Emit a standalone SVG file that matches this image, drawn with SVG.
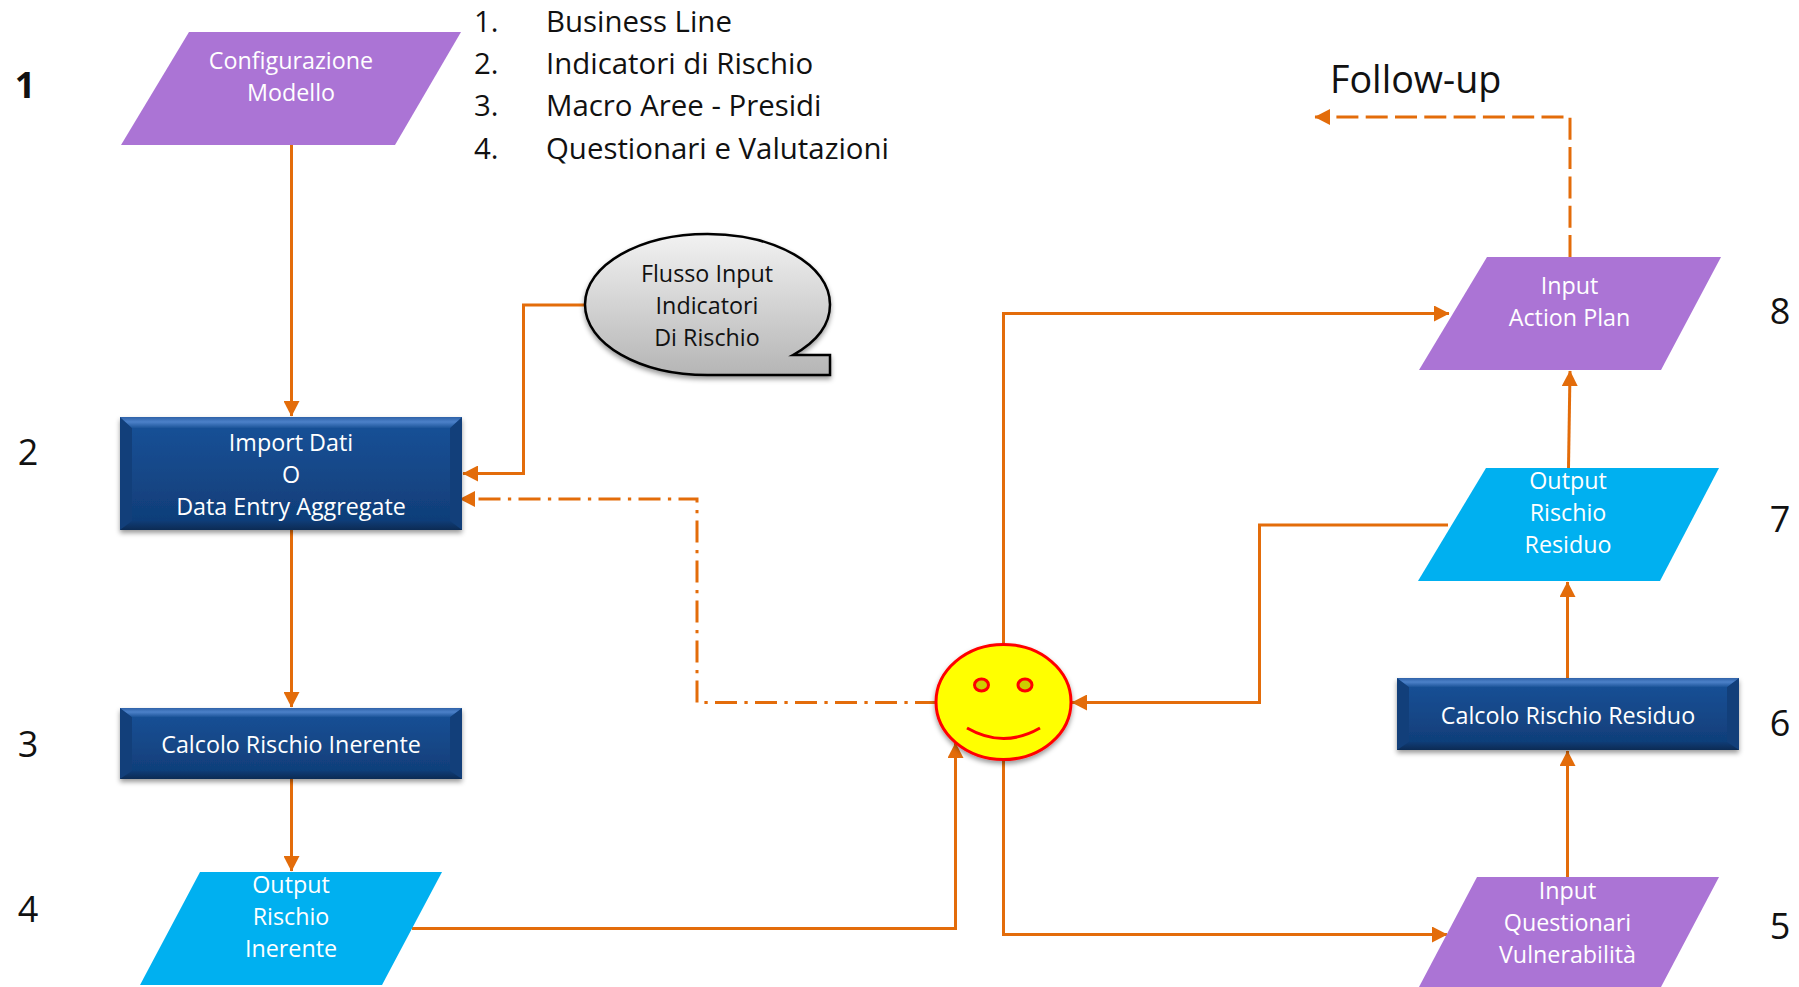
<svg xmlns="http://www.w3.org/2000/svg" width="1799" height="987" viewBox="0 0 1799 987">
<defs>
<style>
text{font-family:"Open Sans","Noto Sans","Liberation Sans",sans-serif;text-anchor:middle}
.w{fill:#fff;font-size:23.300px}
.k{fill:#111;font-size:23.300px}
.n{fill:#111;font-size:36px}
.l{fill:#111;font-size:29.400px;text-anchor:start}
.purple{fill:#ab74d5}
.cyan{fill:#00b0f0}
.c{fill:none;stroke:#e36c0a;stroke-width:3}
.arrow{marker-end:url(#a)}
.dash{stroke-dasharray:22 7.300}
.dd{stroke-dasharray:22 7.300 3.300 7.400}
.face{fill:url(#b);filter:url(#s)}
.top{fill:url(#bt)}
.bot{fill:url(#bb)}
.side{fill:#123f7a}
</style>
<marker id="a" markerUnits="userSpaceOnUse" markerWidth="16" markerHeight="16" refX="15" refY="8" orient="auto"><path d="M0 0L15.500 8L0 16Z" fill="#e36c0a"/></marker>
<linearGradient id="b" x1="0" y1="0" x2="0" y2="1"><stop offset="0" stop-color="#1a5299"/><stop offset="1" stop-color="#0f3c76"/></linearGradient>
<linearGradient id="bt" x1="0" y1="0" x2="0" y2="1"><stop offset="0" stop-color="#2f62a8"/><stop offset=".45" stop-color="#4c81c9"/><stop offset="1" stop-color="#1c5499"/></linearGradient>
<linearGradient id="bb" x1="0" y1="0" x2="0" y2="1"><stop offset="0" stop-color="#0f3c76"/><stop offset="1" stop-color="#0c2b54"/></linearGradient>
<linearGradient id="g" x1="0" y1="0" x2="0" y2="1"><stop offset="0" stop-color="#f2f2f2"/><stop offset="1" stop-color="#b5b5b5"/></linearGradient>
<filter id="s" x="-10%" y="-10%" width="120%" height="130%"><feDropShadow dx="0" dy="3" stdDeviation="2.500" flood-color="#000" flood-opacity=".4"/></filter>
</defs>
<g id="connectors">
<path class="c arrow" d="M291.500 145V416"/>
<path class="c arrow" d="M291.500 530V707"/>
<path class="c arrow" d="M291.500 779V871"/>
<path class="c arrow" d="M585 305H523.500V473.500H463"/>
<path class="c arrow dd" d="M937 702.500H697V499H460"/>
<path class="c arrow" d="M412 928.500H955.500V743"/>
<path class="c arrow" d="M1003.500 760V934.500H1447"/>
<path class="c arrow" d="M1003.500 644V313.500H1449"/>
<path class="c arrow" d="M1448 525H1259.500V702.500H1072"/>
<path class="c arrow" d="M1567.500 877V751"/>
<path class="c arrow" d="M1567.500 678V582"/>
<path class="c arrow" d="M1568.500 468L1570 371"/>
<path class="c arrow dash" d="M1570 257V117H1315"/>
</g>
<g id="node1"><path class="purple" d="M189 32H461L395 145H121Z"/><text class="w" x="291" y="69">Configurazione</text><text class="w" x="291" y="101">Modello</text></g>
<g id="node2"><rect class="face" x="120" y="417" width="342" height="113"/><path class="side" d="M120 417L132 428V521L120 530Z"/><path class="side" d="M462 417L450 428V521L462 530Z"/><path class="top" d="M120 417H462L450 428H132Z"/><path class="bot" d="M120 530H462L450 521H132Z"/><text class="w" x="291" y="451">Import Dati</text><text class="w" x="291" y="483">O</text><text class="w" x="291" y="515">Data Entry Aggregate</text></g>
<g id="node3"><rect class="face" x="120" y="708" width="342" height="71"/><path class="side" d="M120 708L132 717V771L120 779Z"/><path class="side" d="M462 708L450 717V771L462 779Z"/><path class="top" d="M120 708H462L450 717H132Z"/><path class="bot" d="M120 779H462L450 771H132Z"/><text class="w" x="291" y="752.500">Calcolo Rischio Inerente</text></g>
<g id="node4"><path class="cyan" d="M200 872H442L382 985H140Z"/><text class="w" x="291" y="893">Output</text><text class="w" x="291" y="925">Rischio</text><text class="w" x="291" y="957">Inerente</text></g>
<g id="bubble"><path d="M830 355H793C820 340 830 322 830 304.500C830 265 775 234 707.500 234C640 234 585 265 585 304.500C585 344 640 375 707.500 375H830Z" fill="url(#g)" stroke="#000" stroke-width="2.500" filter="url(#s)"/><text class="k" x="707" y="282">Flusso Input</text><text class="k" x="707" y="314">Indicatori</text><text class="k" x="707" y="346">Di Rischio</text></g>
<g id="smiley"><ellipse cx="1003.500" cy="702" rx="67.500" ry="57.500" fill="#ff0" stroke="#f00" stroke-width="3" filter="url(#s)"/><ellipse cx="981.500" cy="685" rx="7" ry="6" fill="#cdcd00" stroke="#f00" stroke-width="3"/><ellipse cx="1025" cy="685" rx="7" ry="6" fill="#cdcd00" stroke="#f00" stroke-width="3"/><path d="M967 728Q1003.500 749 1040 728" fill="none" stroke="#f00" stroke-width="3"/></g>
<g id="node5"><path class="purple" d="M1477 877H1719L1661 987H1419Z"/><text class="w" x="1567.500" y="899">Input</text><text class="w" x="1567.500" y="931">Questionari</text><text class="w" x="1567.500" y="963">Vulnerabilità</text></g>
<g id="node6"><rect class="face" x="1397" y="678" width="342" height="72"/><path class="side" d="M1397 678L1409 687V742L1397 750Z"/><path class="side" d="M1739 678L1727 687V742L1739 750Z"/><path class="top" d="M1397 678H1739L1727 687H1409Z"/><path class="bot" d="M1397 750H1739L1727 742H1409Z"/><text class="w" x="1568" y="723.500">Calcolo Rischio Residuo</text></g>
<g id="node7"><path class="cyan" d="M1486 468H1719L1660 581H1418Z"/><text class="w" x="1568" y="489">Output</text><text class="w" x="1568" y="521">Rischio</text><text class="w" x="1568" y="553">Residuo</text></g>
<g id="node8"><path class="purple" d="M1487 257H1721L1661 370H1419Z"/><text class="w" x="1569.500" y="294">Input</text><text class="w" x="1569.500" y="326">Action Plan</text></g>
<g id="list"><text class="l" x="474" y="32">1.</text><text class="l" x="546" y="32">Business Line</text><text class="l" x="474" y="74">2.</text><text class="l" x="546" y="74">Indicatori di Rischio</text><text class="l" x="474" y="116">3.</text><text class="l" x="546" y="116">Macro Aree - Presidi</text><text class="l" x="474" y="159">4.</text><text class="l" x="546" y="159">Questionari e Valutazioni</text></g>
<g id="labels"><text x="1330" y="93" style="font-size:37.700px;text-anchor:start;fill:#111">Follow-up</text>
<text class="n" x="25" y="98" style="font-weight:700">1</text><text class="n" x="28" y="465">2</text><text class="n" x="28" y="757">3</text><text class="n" x="28" y="922">4</text><text class="n" x="1780" y="939">5</text><text class="n" x="1780" y="736">6</text><text class="n" x="1780" y="532">7</text><text class="n" x="1780" y="324">8</text></g>
</svg>
